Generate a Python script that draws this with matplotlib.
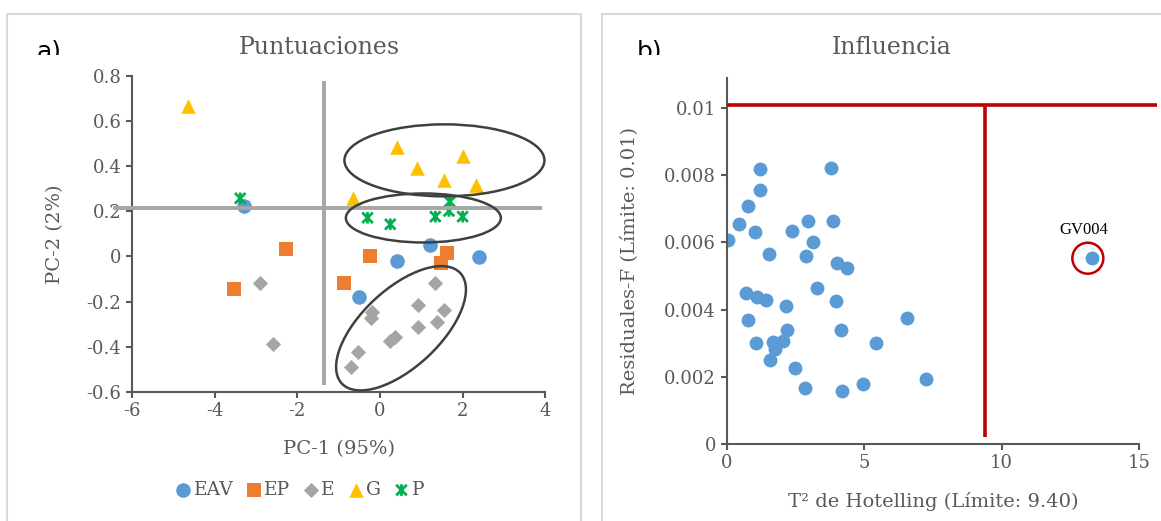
import numpy as np
import matplotlib
matplotlib.use("Agg")
import matplotlib.pyplot as plt
import matplotlib.transforms as mtransforms
from matplotlib.path import Path
from matplotlib.patches import Ellipse, Rectangle

# PCA scores per group (PC-1, PC-2)
eav_pc1 = [-3.28, -0.50, 0.41, 1.22, 2.40]
eav_pc2 = [0.223, -0.181, -0.020, 0.050, -0.004]
ep_pc1 = [-3.52, -2.27, -0.87, -0.24, 1.62, 1.47]
ep_pc2 = [-0.146, 0.031, -0.116, 0.002, 0.014, -0.028]
e_pc1 = [-2.90, -2.59, 1.32, 0.93, 1.54, 1.37, 0.93, 0.37, 0.25, -0.19, -0.21, -0.53, -0.70]
e_pc2 = [-0.119, -0.389, -0.118, -0.215, -0.237, -0.290, -0.312, -0.357, -0.374,
         -0.246, -0.273, -0.423, -0.489]
g_pc1 = [-4.64, 0.41, 2.00, 0.90, 1.56, 2.33, -0.64]
g_pc2 = [0.665, 0.485, 0.444, 0.390, 0.338, 0.316, 0.257]
p_pc1 = [-3.38, -0.30, 0.25, 1.34, 2.00, 1.69, 1.67]
p_pc2 = [0.257, 0.171, 0.142, 0.176, 0.176, 0.242, 0.201]

# reference cross lines in the score plot
h_line_y = 0.213
h_line_x = (-6.46, 3.92)
v_line_x = -1.36
v_line_y = (-0.569, 0.776)

# influence plot: Hotelling T2 vs F residuals
t2 = [1.22, 3.79, 1.22, 0.79, 0.47, 2.97, 3.86, 1.04, 2.37, 0.04, 3.13, 1.53, 2.89,
      4.01, 4.37, 3.30, 0.70, 1.12, 1.43, 3.97, 2.15, 0.79, 6.57, 2.19, 4.16, 1.07,
      1.68, 2.07, 1.76, 1.58, 5.43, 2.49, 2.85, 4.21, 4.97, 7.24, 13.29]
q_res = [0.00820, 0.00823, 0.00756, 0.00707, 0.00655, 0.00663, 0.00663, 0.00631,
         0.00635, 0.00607, 0.00601, 0.00566, 0.00559, 0.00539, 0.00525, 0.00465,
         0.00449, 0.00438, 0.00429, 0.00426, 0.00412, 0.00369, 0.00374, 0.00339,
         0.00339, 0.00302, 0.00305, 0.00308, 0.00283, 0.00251, 0.00302, 0.00226,
         0.00166, 0.00158, 0.00180, 0.00192, 0.00553]
outlier_name = "GV004"
outlier_idx = 36
t2_limit = 9.40
q_limit = 0.0101

plt.rcParams['font.family'] = ['DejaVu Serif']
plt.rcParams['axes.unicode_minus'] = False

GRAY_TXT = '#595959'
blue = '#5b9bd5'
orange = '#ed7d31'
gray = '#a5a5a5'
yellow = '#ffc000'
green = '#00b050'
red = '#c00000'

W, H = 1161, 521
fig = plt.figure(figsize=(W / 100, H / 100), dpi=100)

# panel frames
for x0, x1 in [(7, 581), (602, 1200)]:
    fig.patches.append(Rectangle((x0 / W, -0.1), (x1 - x0) / W, 1.1 - 14 / H,
                                 transform=fig.transFigure, fill=False,
                                 edgecolor='#d9d9d9', lw=1.5, zorder=0))


def style_axes(ax):
    for s in ['top', 'right']:
        ax.spines[s].set_visible(False)
    for s in ['left', 'bottom']:
        ax.spines[s].set_color(GRAY_TXT)
        ax.spines[s].set_linewidth(1.5)
    ax.tick_params(colors=GRAY_TXT, labelcolor=GRAY_TXT, labelsize=13,
                   length=4.5, width=1.5, pad=3)


def px_ellipse(ax, cx, cy, w, h, angle=0, color='#404040', lw=1.8):
    # ellipse sized in pixels, anchored at a data point
    tr = mtransforms.ScaledTranslation(cx, cy, ax.transData)
    e = Ellipse((0, 0), w, h, angle=angle, transform=tr, fill=False,
                edgecolor=color, lw=lw, zorder=5, clip_on=False)
    ax.add_patch(e)


star = Path([(-1, -1), (1, 1), (-1, 1), (1, -1), (0, -1.1), (0, 1.1)],
            [Path.MOVETO, Path.LINETO, Path.MOVETO, Path.LINETO, Path.MOVETO, Path.LINETO])

# ---- a) scores
ax1 = fig.add_axes([131.9 / W, 1 - 392 / H, 413.4 / W, 316.4 / H])
style_axes(ax1)
ax1.set_xlim(-6, 4)
ax1.set_ylim(-0.6, 0.8)
ax1.set_xticks(np.arange(-6, 5, 2))
yt = np.round(np.arange(-0.6, 0.81, 0.2), 1)
ax1.set_yticks(yt)
ax1.set_yticklabels([f"{v:g}" for v in yt])

h1 = ax1.scatter(eav_pc1, eav_pc2, s=110, marker='o', color=blue, lw=0, zorder=2, label='EAV')
h2 = ax1.scatter(ep_pc1, ep_pc2, s=100, marker='s', color=orange, lw=0, zorder=2, label='EP')
h3 = ax1.scatter(e_pc1, e_pc2, s=60, marker='D', color=gray, lw=0, zorder=2, label='E')
h4 = ax1.scatter(g_pc1, g_pc2, s=110, marker='^', color=yellow, lw=0, zorder=2, label='G')
h5 = ax1.scatter(p_pc1, p_pc2, s=70, marker=star, facecolor='none', edgecolor=green,
                 lw=2, zorder=2, label='P')

ax1.plot(h_line_x, [h_line_y, h_line_y], color='#a6a6a6', lw=2.8, zorder=3,
         solid_capstyle='butt', clip_on=False)
ax1.plot([v_line_x, v_line_x], v_line_y, color='#a6a6a6', lw=2.8, zorder=3,
         solid_capstyle='butt')

px_ellipse(ax1, 1.56, 0.425, 200, 72)
px_ellipse(ax1, 1.05, 0.170, 155, 49)
px_ellipse(ax1, 0.51, -0.318, 162, 78, angle=43)

ax1.set_xlabel("PC-1 (95%)", fontsize=14, color=GRAY_TXT, labelpad=14)
ax1.set_ylabel("PC-2 (2%)", fontsize=14, color=GRAY_TXT, labelpad=16)
fig.text(319 / W, 1 - 48 / H, "Puntuaciones", fontsize=17, color=GRAY_TXT,
         ha='center', va='center')

leg = ax1.legend(handles=[h1, h2, h3, h4, h5], loc='center', ncol=5,
                 bbox_to_anchor=(300 / W, 1 - 490 / H), bbox_transform=fig.transFigure,
                 frameon=False, fontsize=13.5, handlelength=0.8, handletextpad=0.15,
                 columnspacing=0.7, scatterpoints=1, borderaxespad=0)
for t in leg.get_texts():
    t.set_color(GRAY_TXT)

# ---- b) influence
ax2 = fig.add_axes([726.5 / W, 1 - 444 / H, 412.5 / W, 366.2 / H])
style_axes(ax2)
ax2.set_xlim(0, 15)
ax2.set_ylim(0, 0.0109)
ax2.set_xticks([0, 5, 10, 15])
yt2 = np.round(np.arange(0, 0.0101, 0.002), 3)
ax2.set_yticks(yt2)
ax2.set_yticklabels([f"{v:g}" for v in yt2])

ax2.scatter(t2, q_res, s=100, marker='o', color=blue, lw=0, zorder=2)
ax2.plot([0, 15.65], [q_limit, q_limit], color=red, lw=2.6, zorder=3,
         solid_capstyle='butt', clip_on=False)
ax2.plot([t2_limit, t2_limit], [0.00022, q_limit], color=red, lw=2.6, zorder=3,
         solid_capstyle='butt')

px_ellipse(ax2, t2[outlier_idx] - 0.15, q_res[outlier_idx], 31, 31, color=red, lw=1.8)
ax2.annotate(outlier_name, (t2[outlier_idx], q_res[outlier_idx]), xytext=(-8, 28),
             textcoords='offset pixels', ha='center', va='center', fontsize=12,
             family='Liberation Serif', color='black')

ax2.set_xlabel(f"T\u00b2 de Hotelling (Límite: {t2_limit:.2f})", fontsize=14,
               color=GRAY_TXT, labelpad=14)
ax2.set_ylabel(f"Residuales-F (Límite: {q_limit:.2f})", fontsize=14,
               color=GRAY_TXT, labelpad=19)
fig.text(892 / W, 1 - 48 / H, "Influencia", fontsize=17, color=GRAY_TXT,
         ha='center', va='center')

# panel tags, cut at the bottom
fig.text(37 / W, 1 - 59 / H, "a)", fontsize=18, color='black', va='baseline',
         family='DejaVu Sans')
fig.text(637 / W, 1 - 59 / H, "b)", fontsize=18, color='black', va='baseline',
         family='DejaVu Sans')
for x0 in (30, 630):
    fig.patches.append(Rectangle((x0 / W, 1 - 70 / H), 45 / W, 15 / H,
                                 transform=fig.transFigure, facecolor='white',
                                 edgecolor='none', zorder=10))

fig.savefig("out.png", dpi=100)
